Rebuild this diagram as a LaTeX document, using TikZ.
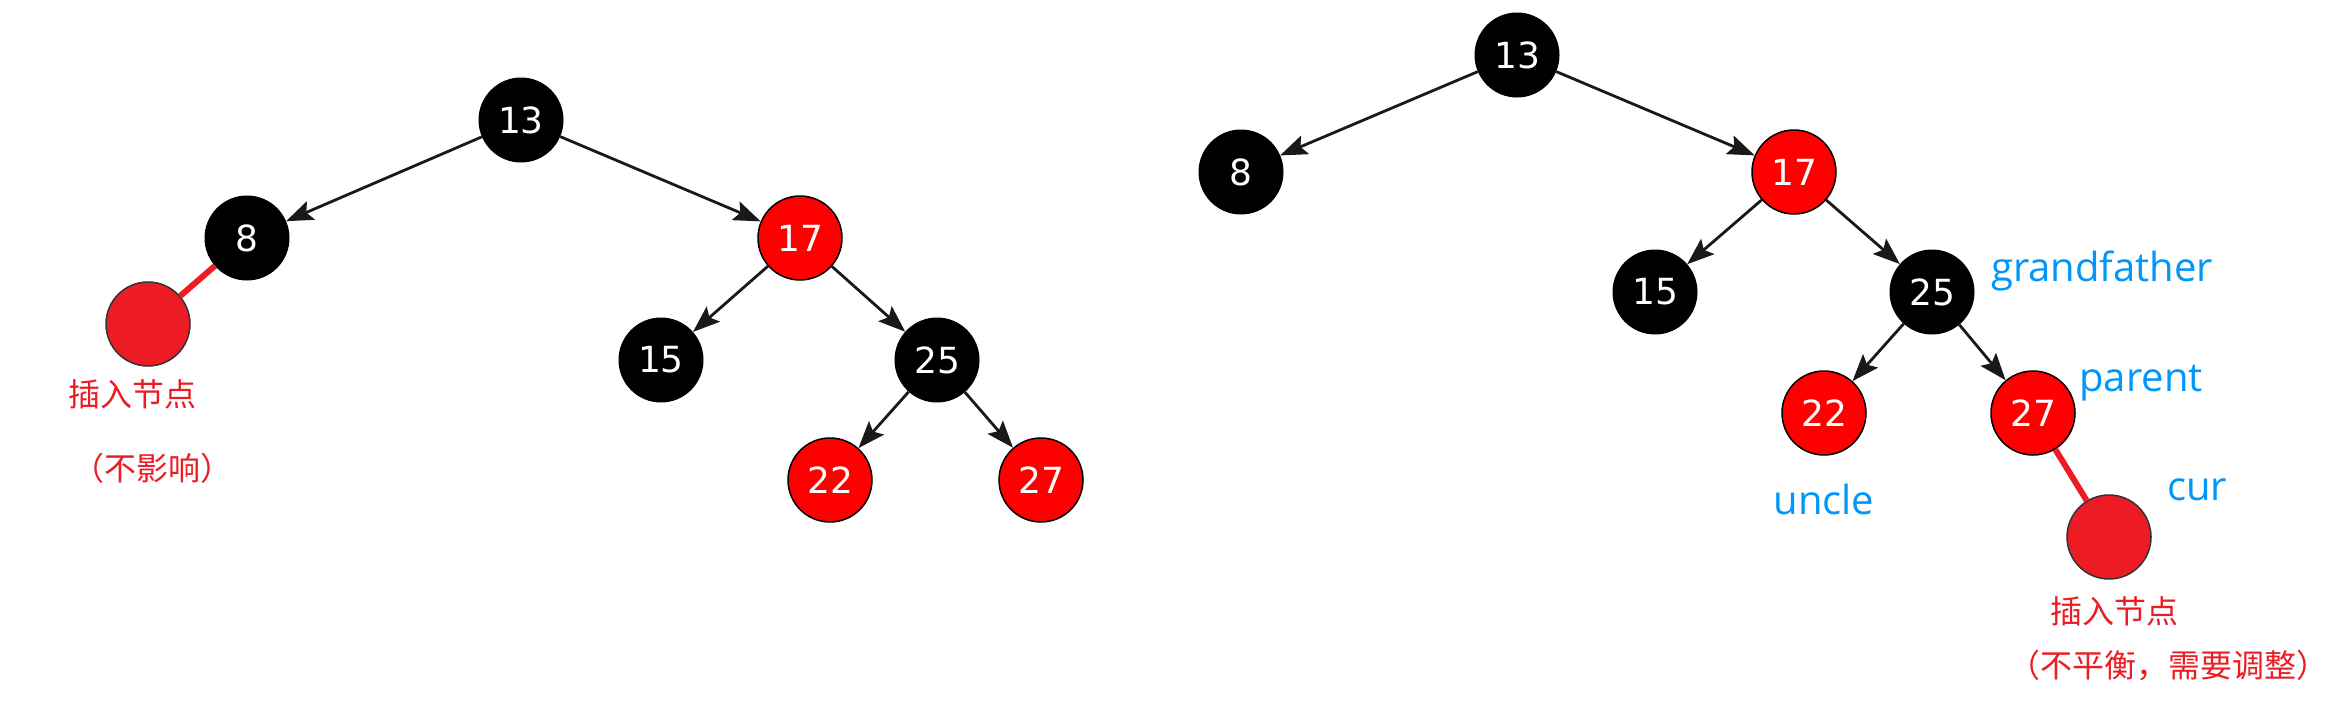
\documentclass[tikz,border=0pt]{standalone}
\usepackage{fontspec}
\setmainfont{DejaVu Sans}
\newfontfamily\cjk{Noto Sans CJK SC}
\newfontfamily\lab{Open Sans}
\usetikzlibrary{arrows.meta}
\definecolor{insred}{RGB}{237,28,36}
\definecolor{lblue}{RGB}{0,150,250}
\tikzset{
 rbnode/.style={circle, minimum size=84pt, inner sep=0pt, font=\fontsize{36}{36}\selectfont, text=white},
 blk/.style={rbnode, fill=black, draw=black, line width=1pt},
 rd/.style={rbnode, fill=red, draw=black, line width=1.5pt},
 ins/.style={circle, minimum size=84pt, inner sep=0pt, fill=insred, draw=black!80, line width=1.5pt},
 edg/.style={draw=black!90, line width=2.8pt, -{Stealth[length=27pt,width=20pt,inset=5pt]}},
 insedge/.style={draw=insred, line width=6pt},
 cjklab/.style={text=insred, font=\cjk\fontsize{32}{32}\selectfont, inner sep=0pt},
 bluelab/.style={text=lblue, font=\lab\fontsize{40}{40}\selectfont, inner sep=0pt},
}
\begin{document}
\begin{tikzpicture}[x=1pt,y=-1pt]
\useasboundingbox[fill=white] (0,0) rectangle (2348,710);
% left tree
\node[blk] (l13) at (521,120) {13};
\node[blk] (l8) at (247,238) {8};
\node[ins] (lins) at (148,324) {};
\node[rd] (l17) at (800,238) {17};
\node[blk] (l15) at (661,360) {15};
\node[blk] (l25) at (937,360) {25};
\node[rd] (l22) at (830,480) {22};
\node[rd] (l27) at (1041,480) {27};
\draw[edg] (l13) -- (l8);
\draw[edg] (l13) -- (l17);
\draw[edg] (l17) -- (l15);
\draw[edg] (l17) -- (l25);
\draw[edg] (l25) -- (l22);
\draw[edg] (l25) -- (l27);
\draw[insedge] (l8) -- (lins);
\node[cjklab] (lt1) at (132,394) {插入节点};
\node[cjklab] (lt2) at (152,468) {（不影响）};
% right tree
\node[blk] (r13) at (1517,55) {13};
\node[blk] (r8) at (1241,172) {8};
\node[rd] (r17) at (1794,172) {17};
\node[blk] (r15) at (1655,292) {15};
\node[blk] (r25) at (1932,292) {25};
\node[rd] (r22) at (1824,413) {22};
\node[rd] (r27) at (2033,413) {27};
\node[ins] (rins) at (2109,537) {};
\draw[edg] (r13) -- (r8);
\draw[edg] (r13) -- (r17);
\draw[edg] (r17) -- (r15);
\draw[edg] (r17) -- (r25);
\draw[edg] (r25) -- (r22);
\draw[edg] (r25) -- (r27);
\draw[insedge] (r27) -- (rins);
\node[bluelab, anchor=west] (gf) at (1991,271) {grandfather};
\node[bluelab] (par) at (2141,383) {parent};
\node[bluelab] (cur) at (2197,490) {cur};
\node[bluelab] (unc) at (1824,499) {uncle};
\node[cjklab] (rt1) at (2114,611) {插入节点};
\node[cjklab] (rt2) at (2168,666) {（不平衡，需要调整）};
\end{tikzpicture}
\end{document}
